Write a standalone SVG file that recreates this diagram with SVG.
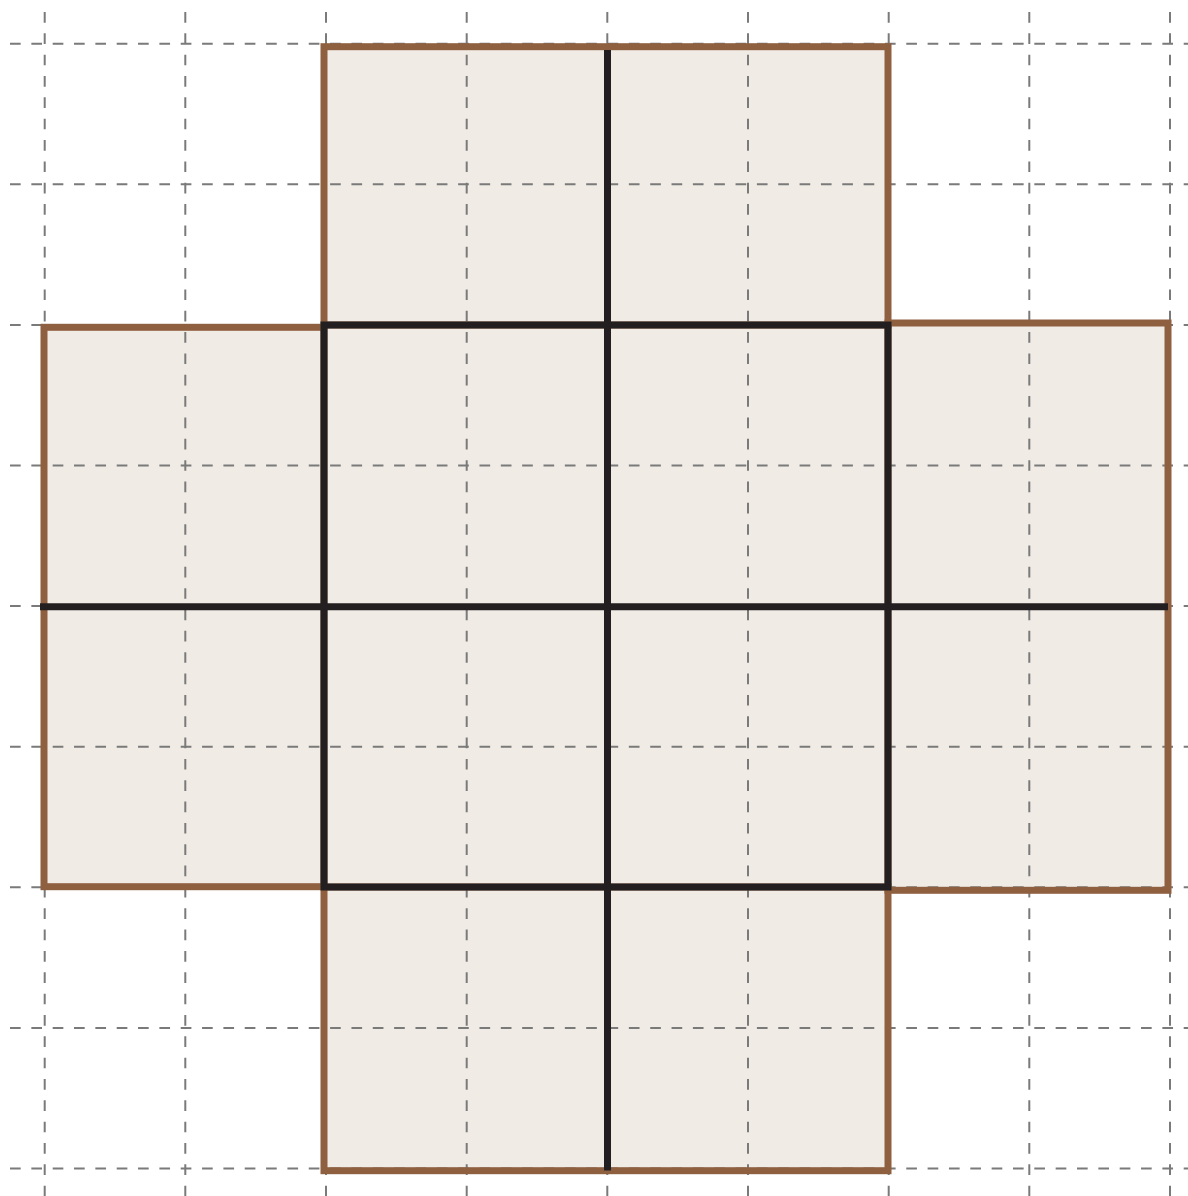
<svg xmlns="http://www.w3.org/2000/svg" width="1188" height="1196" viewBox="0 0 1188 1196">
<style>
.fill{fill:#f0ece5;stroke:none}
.grid line{stroke:#7a7a7a;stroke-width:2;stroke-dasharray:10.67 10.67;fill:none}
.arm{fill:none;stroke:#8f6040;stroke-width:7;stroke-linejoin:miter}
.bold{stroke:#231f20;stroke-width:7;fill:none;stroke-linecap:butt}
</style>
<rect width="1188" height="1196" fill="#ffffff"/>
<g id="fills">
<rect class="fill" x="324" y="46.7" width="564" height="280"/>
<rect class="fill" x="44" y="325" width="1124" height="564"/>
<rect class="fill" x="324" y="885" width="564" height="285.7"/>
</g>
<g class="grid" id="grid">
<line x1="10" y1="43.7" x2="1188" y2="43.7"/>
<line x1="10" y1="184.3" x2="1188" y2="184.3"/>
<line x1="10" y1="325" x2="1188" y2="325"/>
<line x1="10" y1="465.5" x2="1188" y2="465.5"/>
<line x1="10" y1="606.1" x2="1188" y2="606.1"/>
<line x1="10" y1="746.7" x2="1188" y2="746.7"/>
<line x1="10" y1="887.3" x2="1188" y2="887.3"/>
<line x1="10" y1="1027.9" x2="1188" y2="1027.9"/>
<line x1="10" y1="1168.5" x2="1188" y2="1168.5"/>
<line x1="44.7" y1="12" x2="44.7" y2="1196"/>
<line x1="185.3" y1="12" x2="185.3" y2="1196"/>
<line x1="326" y1="12" x2="326" y2="1196"/>
<line x1="466.7" y1="12" x2="466.7" y2="1196"/>
<line x1="607.3" y1="12" x2="607.3" y2="1196"/>
<line x1="748" y1="12" x2="748" y2="1196"/>
<line x1="888.7" y1="12" x2="888.7" y2="1196"/>
<line x1="1029.3" y1="12" x2="1029.3" y2="1196"/>
<line x1="1170" y1="12" x2="1170" y2="1196"/>
</g>
<g id="arm-top"><rect class="arm" x="324" y="46.7" width="564" height="278.3"/></g>
<g id="arm-left"><rect class="arm" x="44" y="327.3" width="280" height="559.4"/></g>
<g id="arm-right"><rect class="arm" x="888" y="323" width="280" height="567.3"/></g>
<g id="arm-bottom"><rect class="arm" x="324" y="887" width="564" height="283.7"/></g>
<g id="connectors">
<rect class="bold" x="324" y="325" width="564" height="562"/>
<line class="bold" x1="607.5" y1="50" x2="607.5" y2="1170.5"/>
<line class="bold" x1="40" y1="606.7" x2="1168" y2="606.7"/>
</g>
</svg>
